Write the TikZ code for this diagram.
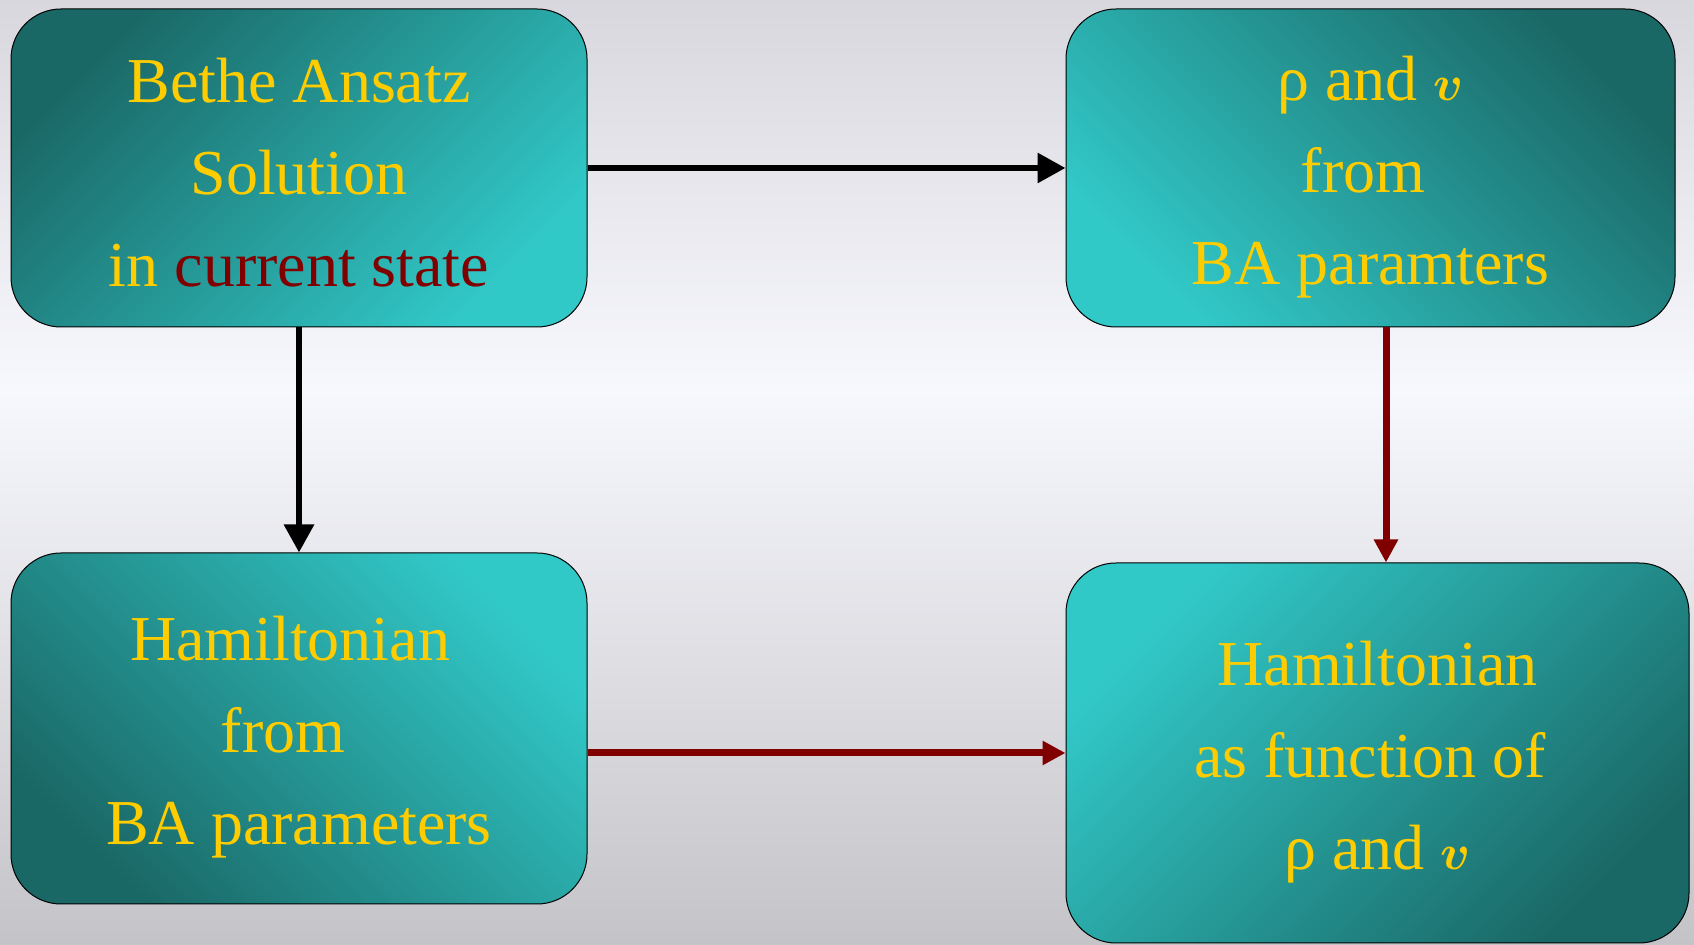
\documentclass[tikz,border=0pt]{standalone}
\usepackage{fontspec}
\setmainfont{Liberation Serif}
\usetikzlibrary{arrows.meta}
\definecolor{tealdark}{HTML}{1A6866}
\definecolor{teallight}{HTML}{31C9C8}
\definecolor{gold}{HTML}{FFCC00}
\definecolor{maroon}{HTML}{800000}
\definecolor{bgtop}{HTML}{D8D7DD}
\definecolor{bgmid}{HTML}{F7F8FD}
\definecolor{bgbot}{HTML}{C4C3C8}
\newcommand{\topgap}[1][31pt]{\rule{0pt}{#1}}
\newcommand{\padline}[2]{\hbox{#1\hspace{#2}}}

\begin{document}
\begin{tikzpicture}[x=0.5pt,y=-0.5pt,
    box/.style={draw=black,line width=0.5pt,rounded corners=25pt,align=center,
      text=gold,inner sep=0pt,font=\fontsize{32}{46}\selectfont},
    blackarrow/.style={line width=3pt,-{Triangle[length=14pt,width=14.5pt]}},
    redarrow/.style={draw=maroon,line width=3.5pt,-{Triangle[length=11.5pt,width=11.5pt,fill=maroon]}}]
    \useasboundingbox (0,0) rectangle (1694,945);
    \shade[top color=bgtop,bottom color=bgmid] (0,0) rectangle (1694,390);
    \shade[top color=bgmid,bottom color=bgbot] (0,390) rectangle (1694,945);

    \node[box,minimum width=288pt,minimum height=159pt,
      top color=tealdark,bottom color=teallight,shading angle=45] (bethe) at (299,168)
      {\topgap[27pt]Bethe Ansatz\\Solution\\in \textcolor{maroon}{current state}};
    \node[box,minimum width=304.5pt,minimum height=159pt,
      top color=tealdark,bottom color=teallight,shading angle=-45] (rhov) at (1370.5,168)
      {\topgap ρ and {\boldmath$v$}\\\padline{from}{7.5pt}\\BA paramters};
    \node[box,minimum width=288pt,minimum height=175.5pt,
      top color=teallight,bottom color=tealdark,shading angle=-45] (hamba) at (299,728.5)
      {\topgap\padline{Hamiltonian}{9pt}\\\padline{from}{16pt}\\BA parameters};
    \node[box,minimum width=311.5pt,minimum height=190pt,
      top color=teallight,bottom color=tealdark,shading angle=45] (hamrho) at (1377.5,753)
      {\topgap Hamiltonian\\\padline{as function of}{7.5pt}\\ρ and {\boldmath$v$}};

    \draw[blackarrow] (bethe.east) -- (rhov.west);
    \draw[blackarrow] (bethe.south) -- (hamba.north);
    \draw[redarrow] ([xshift=7.75pt]rhov.south) -- ([xshift=7.75pt]rhov.south |- hamrho.north);
    \draw[redarrow] (hamba.east |- hamrho.west) -- (hamrho.west);
\end{tikzpicture}
\end{document}
